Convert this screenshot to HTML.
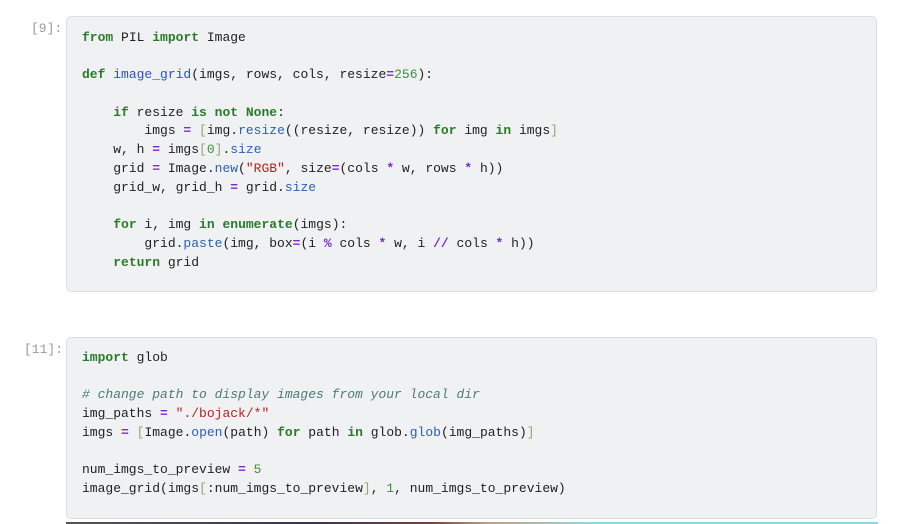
<!DOCTYPE html>
<html><head><meta charset="utf-8"><style>
html,body{margin:0;padding:0;width:900px;height:524px;overflow:hidden;background:#fff;}
.cell{position:absolute;left:66px;width:811px;background:#f0f1f3;border:1px solid #dcdde0;border-radius:5px;box-sizing:border-box;}
.p{position:absolute;font-family:"Liberation Mono",monospace;font-size:13px;color:#9a9a9a;}
.l{position:absolute;left:82px;font-family:"Liberation Mono",monospace;font-size:13px;color:#212121;white-space:pre;line-height:18px;}
.k{color:#2b7a2b;font-weight:bold;}
.f{color:#2a4fd1;}
.a{color:#7a2ad1;font-weight:bold;}
.n{color:#3d8f3d;}
.s{color:#b62222;}
.b{color:#8fa86f;}
.c{color:#4f7a7a;font-style:italic;}
.m{color:#2b5fb5;}
</style></head><body>
<div class="p" style="left:31px;top:21px;">[9]:</div>
<div class="cell" style="top:16px;height:276px;"></div>
<div class="l" style="top:29px;"><span class="k">from</span> PIL <span class="k">import</span> Image</div>
<div class="l" style="top:66px;"><span class="k">def</span> <span class="f">image_grid</span>(imgs, rows, cols, resize<span class="a">=</span><span class="n">256</span>):</div>
<div class="l" style="top:104px;">    <span class="k">if</span> resize <span class="k">is not</span> <span class="k">None</span>:</div>
<div class="l" style="top:122px;">        imgs <span class="a">=</span> <span class="b">[</span>img.<span class="m">resize</span>((resize, resize)) <span class="k">for</span> img <span class="k">in</span> imgs<span class="b">]</span></div>
<div class="l" style="top:141px;">    w, h <span class="a">=</span> imgs<span class="b">[</span><span class="n">0</span><span class="b">]</span>.<span class="m">size</span></div>
<div class="l" style="top:160px;">    grid <span class="a">=</span> Image.<span class="m">new</span>(<span class="s">"RGB"</span>, size<span class="a">=</span>(cols <span class="a">*</span> w, rows <span class="a">*</span> h))</div>
<div class="l" style="top:179px;">    grid_w, grid_h <span class="a">=</span> grid.<span class="m">size</span></div>
<div class="l" style="top:216px;">    <span class="k">for</span> i, img <span class="k">in</span> <span class="k">enumerate</span>(imgs):</div>
<div class="l" style="top:235px;">        grid.<span class="m">paste</span>(img, box<span class="a">=</span>(i <span class="a">%</span> cols <span class="a">*</span> w, i <span class="a">//</span> cols <span class="a">*</span> h))</div>
<div class="l" style="top:254px;">    <span class="k">return</span> grid</div>

<div class="p" style="left:24px;top:342px;">[11]:</div>
<div class="cell" style="top:337px;height:182px;"></div>
<div class="l" style="top:349px;"><span class="k">import</span> glob</div>
<div class="l" style="top:386px;"><span class="c"># change path to display images from your local dir</span></div>
<div class="l" style="top:405px;">img_paths <span class="a">=</span> <span class="s">"./bojack/*"</span></div>
<div class="l" style="top:424px;">imgs <span class="a">=</span> <span class="b">[</span>Image.<span class="m">open</span>(path) <span class="k">for</span> path <span class="k">in</span> glob.<span class="m">glob</span>(img_paths)<span class="b">]</span></div>
<div class="l" style="top:461px;">num_imgs_to_preview <span class="a">=</span> <span class="n">5</span></div>
<div class="l" style="top:480px;">image_grid(imgs<span class="b">[</span>:num_imgs_to_preview<span class="b">]</span>, <span class="n">1</span>, num_imgs_to_preview)</div>

<div style="position:absolute;left:66px;top:522px;width:812px;height:2px;background:linear-gradient(90deg,#555 0%,#3a3550 30%,#7a4040 45%,#bfa080 52%,#90d8e0 65%,#90d8e0 100%);"></div>
</body></html>
